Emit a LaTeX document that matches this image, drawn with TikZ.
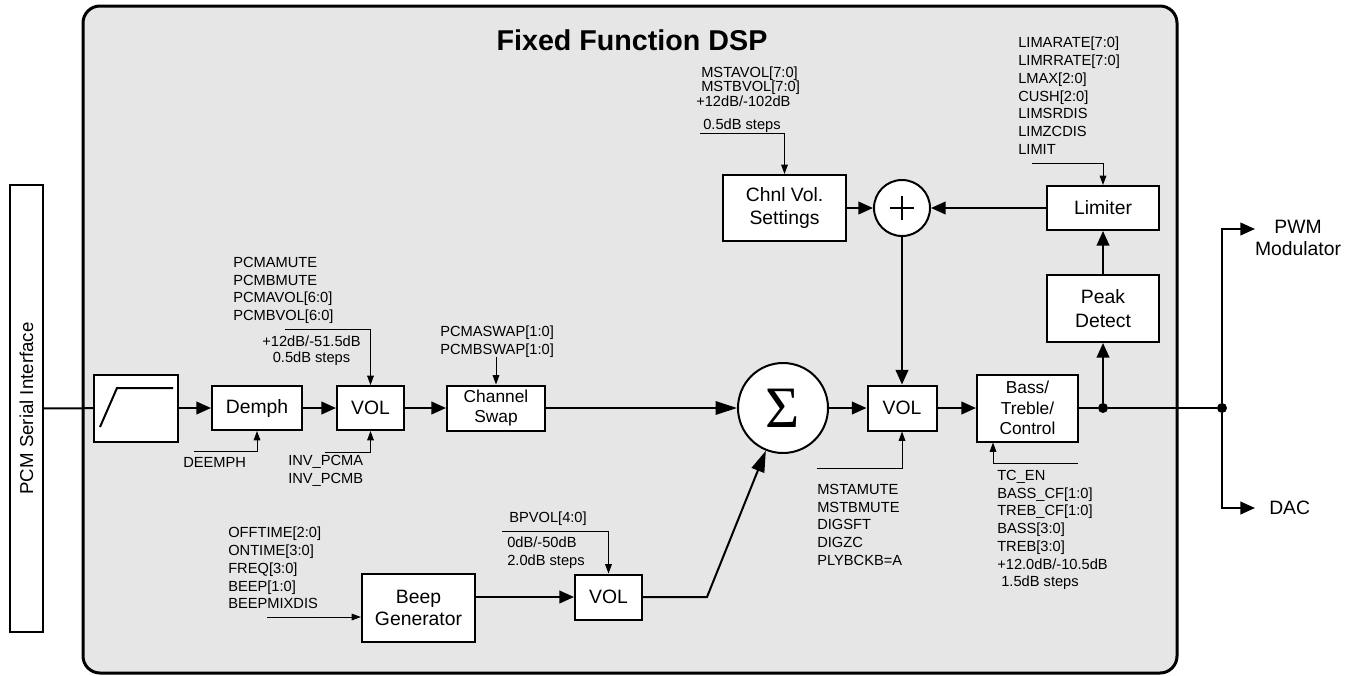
\documentclass[tikz,border=0pt]{standalone}
\usepackage{fontspec}
\setmainfont{Liberation Sans}
\newfontfamily\sigmafont{Liberation Serif}
\usepackage{tikz}
\usetikzlibrary{arrows.meta}

\newcommand{\blkfont}{\fontsize{14.5}{17}\selectfont}
\newcommand{\smblkfont}{\fontsize{13}{15.5}\selectfont}
\newcommand{\lblfont}{\fontsize{11}{13.3}\selectfont}

\definecolor{dspgray}{RGB}{230,230,230}

\tikzset{
  blk/.style={draw, line width=1.5pt, fill=white, inner sep=0pt, align=center, font=\blkfont},
  lbl/.style={anchor=north west, inner sep=0pt, align=left, font=\lblfont},
  sig/.style={line width=1.5pt, -{Triangle[length=11pt,width=9.5pt]}},
  sumin/.style={line width=1.5pt, -{Triangle[length=16pt,width=10pt]}},
  ctl/.style={line width=0.75pt, -{Triangle[length=7pt,width=5pt]}},
  jdot/.style={circle, fill, inner sep=0pt, minimum size=7.5pt},
}

\begin{document}
\begin{tikzpicture}[x=0.75pt,y=0.75pt,yscale=-1,xscale=1]
\useasboundingbox (0,0) rectangle (1355,675);

%Shape: Rounded Rect [id:dsp]
\draw [line width=2.25pt, fill=dspgray, rounded corners=12.75pt] (83,6) rectangle (1177,673);
% Text Node
\draw (632,40) node [font=\fontsize{21.5}{25}\selectfont\bfseries] (title) {Fixed Function DSP};

%Shape: Rectangle [id:pcm]
\draw (26.5,408.5) node [draw, line width=1.5pt, fill=white, rotate=90, minimum width=335.25pt, minimum height=24.75pt, inner sep=0pt, font=\fontsize{14}{16}\selectfont] (pcm) {PCM Serial Interface};

%Shape: Rectangle [id:filt]
\draw (136,408) node [blk, minimum width=63pt, minimum height=50.25pt] (filt) {};
\draw [line width=1.5pt] (100,427) -- (117,388) -- (173,388);
%Shape: Rectangle [id:demph]
\draw (257,408) node [blk, minimum width=67.5pt, minimum height=33pt] (demph) {Demph};
%Shape: Rectangle [id:vola]
\draw (370.5,408) node [blk, minimum width=50.25pt, minimum height=33pt] (vola) {VOL};
%Shape: Rectangle [id:swap]
\draw (496,408) node [blk, minimum width=73.5pt, minimum height=33.75pt, font=\smblkfont] (swap) {Channel\\Swap};
%Shape: Circle [id:sum]
\draw (783,408) node [draw, circle, line width=1.5pt, fill=white, minimum size=67.5pt, inner sep=0pt] (sum) {\sigmafont\fontsize{44}{44}\selectfont Σ};
%Shape: Rectangle [id:volb]
\draw (902,408) node [blk, minimum width=51.75pt, minimum height=33.75pt] (volb) {VOL};
%Shape: Rectangle [id:tone]
\draw (1027.5,408) node [blk, minimum width=75.75pt, minimum height=50.25pt, font=\smblkfont] (tone) {Bass/\\Treble/\\Control};
%Shape: Rectangle [id:peak]
\draw (1103,308.5) node [blk, minimum width=84pt, minimum height=50.25pt, font=\fontsize{14.5}{18}\selectfont] (peak) {Peak\\Detect};
%Shape: Rectangle [id:limit]
\draw (1103,208) node [blk, minimum width=84pt, minimum height=33pt] (limit) {Limiter};
%Shape: Circle [id:plus]
\draw (902,208) node [draw, circle, line width=1.5pt, fill=white, minimum size=42pt, inner sep=0pt] (plus) {};
\draw [line width=1pt] (890,208) -- (914,208) (902,196) -- (902,220);
%Shape: Rectangle [id:chnl]
\draw (784.5,208) node [blk, minimum width=92.25pt, minimum height=49.5pt] (chnl) {Chnl Vol.\\Settings};
%Shape: Rectangle [id:beep]
\draw (418.5,608) node [blk, minimum width=84.75pt, minimum height=51pt] (beep) {Beep\\Generator};
%Shape: Rectangle [id:volc]
\draw (608.5,597) node [blk, minimum width=50.25pt, minimum height=33.75pt] (volc) {VOL};

%Junctions
\draw (1103,408) node [jdot] (j1) {};
\draw (1222,408) node [jdot] (j2) {};
\coordinate (pwmtip) at (1255,229);
\coordinate (dactip) at (1255,508);
\coordinate (bend) at (707,597);

%Straight Lines: signal path
\draw [line width=1.5pt] (pcm) -- (filt);
\draw [sig] (filt) -- (demph);
\draw [sig] (demph) -- (vola);
\draw [sig] (vola) -- (swap);
\draw [sumin] (swap) -- (sum);
\draw [sig] (sum) -- (volb);
\draw [sig] (volb) -- (tone);
\draw [line width=1.5pt] (tone) -- (j1) -- (j2);
\draw [sig] (j1) -- (peak);
\draw [sig] (peak) -- (limit);
\draw [sig] (limit) -- (plus);
\draw [sig] (chnl) -- (plus);
\draw [sig] (plus) -- (volb);
\draw [sig] (j2) |- (pwmtip);
\draw [sig] (j2) |- (dactip);
\draw [sig] (beep.east |- volc) -- (volc);
\draw [sumin] (volc) -- (bend) -- (sum);

%Straight Lines: register inputs
\coordinate (demphin) at (194,451);
\draw [ctl] (demphin) -| (demph);
\coordinate (volatop) at (285,329);
\draw [ctl] (volatop) -| (vola);
\coordinate (volabot) at (325,452);
\draw [ctl] (volabot) -| (vola);
\coordinate (swapin) at (496,357);
\draw [ctl] (swapin) -- (swap);
\coordinate (volcin) at (502,531);
\draw [ctl] (volcin) -| (volc);
\coordinate (beepin) at (267,617);
\draw [ctl] (beepin) -- (beepin -| beep.west);
\coordinate (chnlin) at (700,133);
\draw [ctl] (chnlin) -| (chnl);
\coordinate (limin) at (1032,163);
\draw [ctl] (limin) -| (limit);
\coordinate (volbin) at (817,468);
\draw [ctl] (volbin) -| (volb);
\coordinate (tonein) at (1078,463);
\draw [ctl] (tonein) -| ([xshift=12.75pt]tone.south west);

% Text Node
\draw (1298,238) node [align=center, font=\fontsize{14.5}{17}\selectfont] (pwm) {PWM\\Modulator};
% Text Node
\draw (1269,508) node [anchor=west, inner sep=0pt, font=\fontsize{14.5}{17}\selectfont] (dac) {DAC};
% Text Node
\draw (233,257) node [lbl] (lbvola) {PCMAMUTE\\PCMBMUTE\\PCMAVOL[6:0]\\PCMBVOL[6:0]};
% Text Node
\draw (311.5,336) node [anchor=north, inner sep=0pt, align=center, font=\lblfont] (lbvoladb) {+12dB/-51.5dB\\[-1.5pt]0.5dB steps};
% Text Node
\draw (183,457) node [lbl] (lbdemph) {DEEMPH};
% Text Node
\draw (288,455) node [lbl] (lbinv) {INV\_PCMA\\INV\_PCMB};
% Text Node
\draw (440,326) node [lbl] (lbswap) {PCMASWAP[1:0]\\PCMBSWAP[1:0]};
% Text Node
\draw (228,527) node [lbl] (lbbeep) {OFFTIME[2:0]\\ONTIME[3:0]\\FREQ[3:0]\\BEEP[1:0]\\BEEPMIXDIS};
% Text Node
\draw (509,512) node [lbl] (lbbpvol) {BPVOL[4:0]};
% Text Node
\draw (507,537) node [lbl] (lbbpdb) {0dB/-50dB\\2.0dB steps};
% Text Node
\draw (701,67) node [lbl] (lbmst) {MSTAVOL[7:0]\\[-2.8pt]MSTBVOL[7:0]};
% Text Node
\draw (696,96) node [lbl] (lbmstdb) {+12dB/-102dB};
% Text Node
\draw (703,119) node [lbl] (lbmststep) {0.5dB steps};
% Text Node
\draw (1018,37) node [lbl] (lblim) {LIMARATE[7:0]\\LIMRRATE[7:0]\\LMAX[2:0]\\CUSH[2:0]\\LIMSRDIS\\LIMZCDIS\\LIMIT};
% Text Node
\draw (817,484) node [lbl] (lbvolb) {MSTAMUTE\\MSTBMUTE\\DIGSFT\\DIGZC\\PLYBCKB=A};
% Text Node
\draw (997,470) node [lbl] (lbtone) {TC\_EN\\BASS\_CF[1:0]\\TREB\_CF[1:0]\\BASS[3:0]\\TREB[3:0]\\+12.0dB/-10.5dB\\\hspace{3pt}1.5dB steps};

\end{tikzpicture}
\end{document}
